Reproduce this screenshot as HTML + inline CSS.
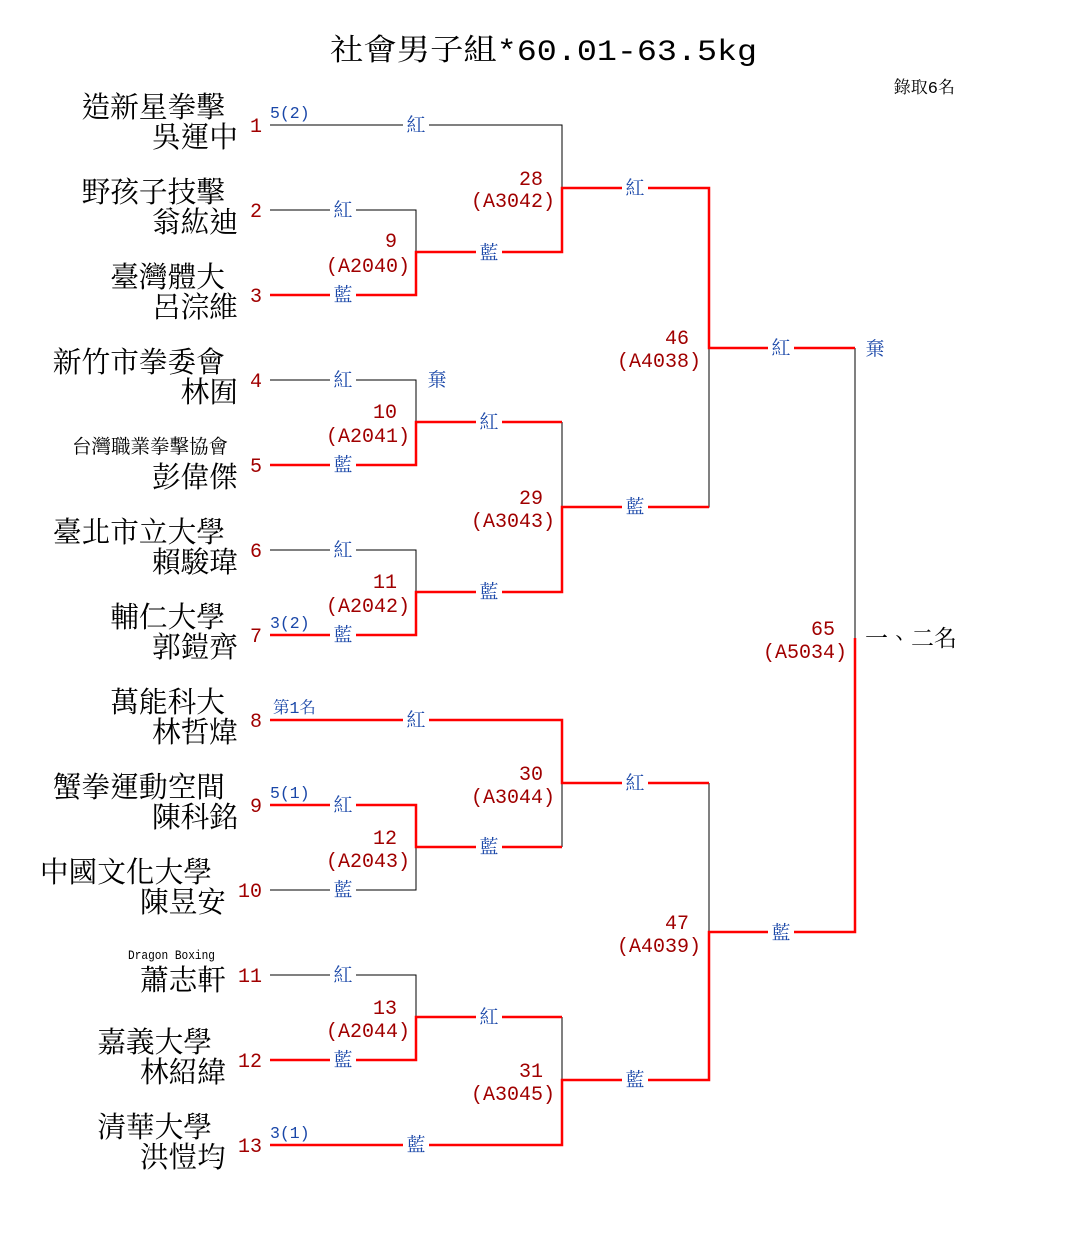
<!DOCTYPE html>
<html><head><meta charset="utf-8"><style>
html,body{margin:0;padding:0;background:#fff;}
svg text{font-family:"Liberation Mono","Noto Serif CJK TC","Noto Serif CJK SC",serif;}
</style></head><body>
<svg width="1085" height="1230" viewBox="0 0 1085 1230" xmlns="http://www.w3.org/2000/svg">
<rect width="1085" height="1230" fill="#fff"/>
<text x="330" y="60" font-size="30" textLength="427" lengthAdjust="spacingAndGlyphs" fill="#000">社會男子組*60.01-63.5kg</text>
<text x="955" y="93" font-size="17" text-anchor="end" fill="#000">錄取6名</text>

<g stroke="#000" stroke-width="1" fill="none">
<path d="M270 125H562V188"/>
<path d="M270 210H416V252"/>
<path d="M270 380H416V422"/>
<path d="M270 550H416V592"/>
<path d="M562 422V507"/>
<path d="M709 348V507H562"/>
<path d="M562 783V847"/>
<path d="M416 805V890H270"/>
<path d="M270 975H416V1017"/>
<path d="M562 1017V1080"/>
<path d="M709 783V932"/>
<path d="M855 348V638"/>
</g>
<g stroke="#f00" stroke-width="2.5" fill="none">
<path d="M270 295H416V252H562V188H709V348H855"/>
<path d="M270 465H416V422H562"/>
<path d="M270 635H416V592H562V507H709"/>
<path d="M270 720H562V783H709"/>
<path d="M270 805H416V847H562"/>
<path d="M270 1060H416V1017H562"/>
<path d="M270 1145H562V1080H709V932H855V638"/>
</g>

<g font-size="19" fill="#1a47a8" text-anchor="middle">
<g fill="#fff" stroke="none">
<rect x="403" y="114" width="26" height="22"/><rect x="330" y="199" width="26" height="22"/><rect x="330" y="284" width="26" height="22"/>
<rect x="476" y="241" width="26" height="22"/><rect x="622" y="177" width="26" height="22"/>
<rect x="330" y="369" width="26" height="22"/><rect x="330" y="454" width="26" height="22"/>
<rect x="330" y="539" width="26" height="22"/><rect x="330" y="624" width="26" height="22"/>
<rect x="476" y="411" width="26" height="22"/><rect x="476" y="581" width="26" height="22"/>
<rect x="622" y="496" width="26" height="22"/><rect x="768" y="337" width="26" height="22"/>
<rect x="403" y="709" width="26" height="22"/><rect x="330" y="794" width="26" height="22"/><rect x="330" y="879" width="26" height="22"/>
<rect x="476" y="836" width="26" height="22"/><rect x="622" y="772" width="26" height="22"/>
<rect x="330" y="964" width="26" height="22"/><rect x="330" y="1049" width="26" height="22"/>
<rect x="476" y="1006" width="26" height="22"/><rect x="622" y="1069" width="26" height="22"/>
<rect x="403" y="1134" width="26" height="22"/><rect x="768" y="921" width="26" height="22"/>
</g>
<text x="416" y="131">紅</text><text x="343" y="216">紅</text><text x="343" y="301">藍</text>
<text x="489" y="259">藍</text><text x="635" y="194">紅</text>
<text x="343" y="386">紅</text><text x="343" y="471">藍</text>
<text x="343" y="556">紅</text><text x="343" y="641">藍</text>
<text x="489" y="428">紅</text><text x="489" y="598">藍</text>
<text x="635" y="513">藍</text><text x="781" y="354">紅</text>
<text x="416" y="726">紅</text><text x="343" y="811">紅</text><text x="343" y="896">藍</text>
<text x="489" y="853">藍</text><text x="635" y="789">紅</text>
<text x="343" y="981">紅</text><text x="343" y="1066">藍</text>
<text x="489" y="1023">紅</text><text x="635" y="1086">藍</text>
<text x="416" y="1151">藍</text><text x="781" y="939">藍</text>
<text x="437" y="386">棄</text><text x="875" y="355">棄</text>
</g>

<g font-size="16.5" fill="#1a47a8">
<text x="270" y="118">5(2)</text><text x="270" y="628">3(2)</text>
<text x="273" y="713">第1名</text><text x="270" y="798">5(1)</text><text x="270" y="1138">3(1)</text>
</g>

<g font-size="20" fill="#a00000" text-anchor="end">
<text x="262" y="132">1</text><text x="262" y="217">2</text><text x="262" y="302">3</text>
<text x="262" y="387">4</text><text x="262" y="472">5</text><text x="262" y="557">6</text>
<text x="262" y="642">7</text><text x="262" y="727">8</text><text x="262" y="812">9</text>
<text x="262" y="897">10</text><text x="262" y="982">11</text><text x="262" y="1067">12</text>
<text x="262" y="1152">13</text>
</g>

<g font-size="20" fill="#a00000" text-anchor="end">
<text x="397" y="247">9</text><text x="410" y="272">(A2040)</text>
<text x="543" y="185">28</text><text x="555" y="207">(A3042)</text>
<text x="397" y="418">10</text><text x="410" y="442">(A2041)</text>
<text x="397" y="588">11</text><text x="410" y="612">(A2042)</text>
<text x="543" y="504">29</text><text x="555" y="527">(A3043)</text>
<text x="689" y="344">46</text><text x="701" y="367">(A4038)</text>
<text x="543" y="780">30</text><text x="555" y="803">(A3044)</text>
<text x="397" y="844">12</text><text x="410" y="867">(A2043)</text>
<text x="397" y="1014">13</text><text x="410" y="1037">(A2044)</text>
<text x="543" y="1077">31</text><text x="555" y="1100">(A3045)</text>
<text x="689" y="929">47</text><text x="701" y="952">(A4039)</text>
<text x="835" y="635">65</text><text x="847" y="658">(A5034)</text>
</g>
<text x="865" y="646" font-size="23" fill="#000">一、二名</text>

<g font-size="28.7" fill="#000" text-anchor="end">
<text x="225" y="117">造新星拳擊</text><text x="238" y="147">吳運中</text>
<text x="225" y="202">野孩子技擊</text><text x="238" y="232">翁紘迪</text>
<text x="225" y="287">臺灣體大</text><text x="238" y="317">呂淙維</text>
<text x="225" y="372">新竹市拳委會</text><text x="238" y="402">林囿</text>
<text x="228" y="453" font-size="19.5">台灣職業拳擊協會</text><text x="238" y="487">彭偉傑</text>
<text x="225" y="542">臺北市立大學</text><text x="238" y="572">賴駿瑋</text>
<text x="225" y="627">輔仁大學</text><text x="238" y="657">郭鎧齊</text>
<text x="225" y="712">萬能科大</text><text x="238" y="742">林哲煒</text>
<text x="225" y="797">蟹拳運動空間</text><text x="238" y="827">陳科銘</text>
<text x="212" y="882">中國文化大學</text><text x="226" y="912">陳昱安</text>
<text x="215" y="959" font-size="13" textLength="87" lengthAdjust="spacingAndGlyphs">Dragon Boxing</text><text x="226" y="990">蕭志軒</text>
<text x="212" y="1052">嘉義大學</text><text x="226" y="1082">林紹緯</text>
<text x="212" y="1137">清華大學</text><text x="226" y="1167">洪愷均</text>
</g>
</svg>
</body></html>
